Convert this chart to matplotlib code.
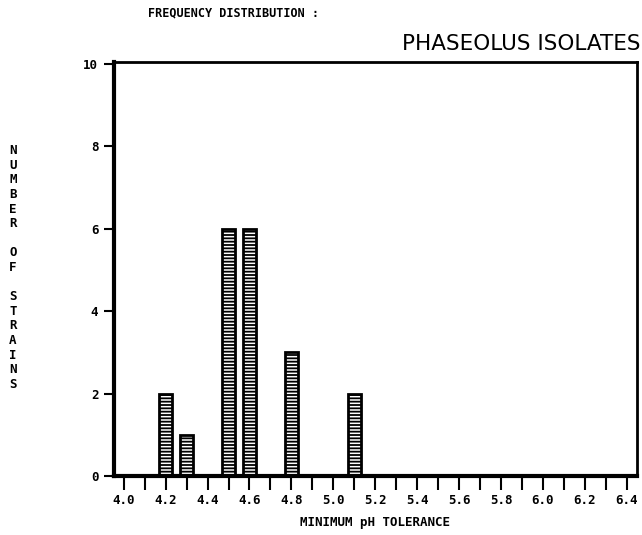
import numpy as np
import matplotlib
matplotlib.use("Agg")
import matplotlib.pyplot as plt

# minimum pH tolerance vs number of strains
ph_values = [4.2, 4.3, 4.5, 4.6, 4.8, 5.1]
strain_counts = [2, 1, 6, 6, 3, 2]

x_ticks = [4.0, 4.1, 4.2, 4.3, 4.4, 4.5, 4.6, 4.7, 4.8, 4.9, 5.0, 5.1, 5.2,
           5.3, 5.4, 5.5, 5.6, 5.7, 5.8, 5.9, 6.0, 6.1, 6.2, 6.3, 6.4]
x_labels = ["4.0", "", "4.2", "", "4.4", "", "4.6", "", "4.8", "", "5.0", "", "5.2",
            "", "5.4", "", "5.6", "", "5.8", "", "6.0", "", "6.2", "", "6.4"]
y_ticks = [0, 2, 4, 6, 8, 10]

plt.rcParams["hatch.linewidth"] = 1.3

fig = plt.figure(figsize=(6.42, 5.35), dpi=100)
ax = fig.add_axes([0.177, 0.11, 0.815, 0.775])

ax.bar(ph_values, strain_counts, width=0.062, color="white", edgecolor="black",
       linewidth=2, hatch="-----")

ax.set_xlim(3.952, 6.448)
ax.set_ylim(0, 10.05)

mono = {"family": "DejaVu Sans Mono", "weight": "bold", "size": 9}
ax.set_xticks(x_ticks)
ax.set_xticklabels(x_labels, fontdict=mono)
ax.set_yticks(y_ticks)
ax.set_yticklabels([str(v) for v in y_ticks], fontdict=mono)
ax.tick_params(axis="x", direction="out", length=10, width=1.5, pad=3)
ax.tick_params(axis="y", direction="out", length=7, width=1.5, pad=4)

ax.spines["left"].set_linewidth(3)
ax.spines["bottom"].set_linewidth(3)
ax.spines["top"].set_linewidth(2)
ax.spines["right"].set_linewidth(2)

ax.set_xlabel("MINIMUM pH TOLERANCE", fontdict=mono, labelpad=6)

ylab = "N\nU\nM\nB\nE\nR\n\nO\nF\n\nS\nT\nR\nA\nI\nN\nS"
fig.text(0.02, 0.5, ylab, ha="center", va="center", family="DejaVu Sans Mono",
         weight="bold", fontsize=9, linespacing=1.16)

fig.text(0.23, 0.975, "FREQUENCY DISTRIBUTION :", family="DejaVu Sans Mono",
         weight="bold", fontsize=8.5, va="center")
fig.text(0.997, 0.918, "PHASEOLUS ISOLATES", family="DejaVu Sans",
         fontsize=15.5, ha="right", va="center")

fig.savefig("out.png", dpi=100)
